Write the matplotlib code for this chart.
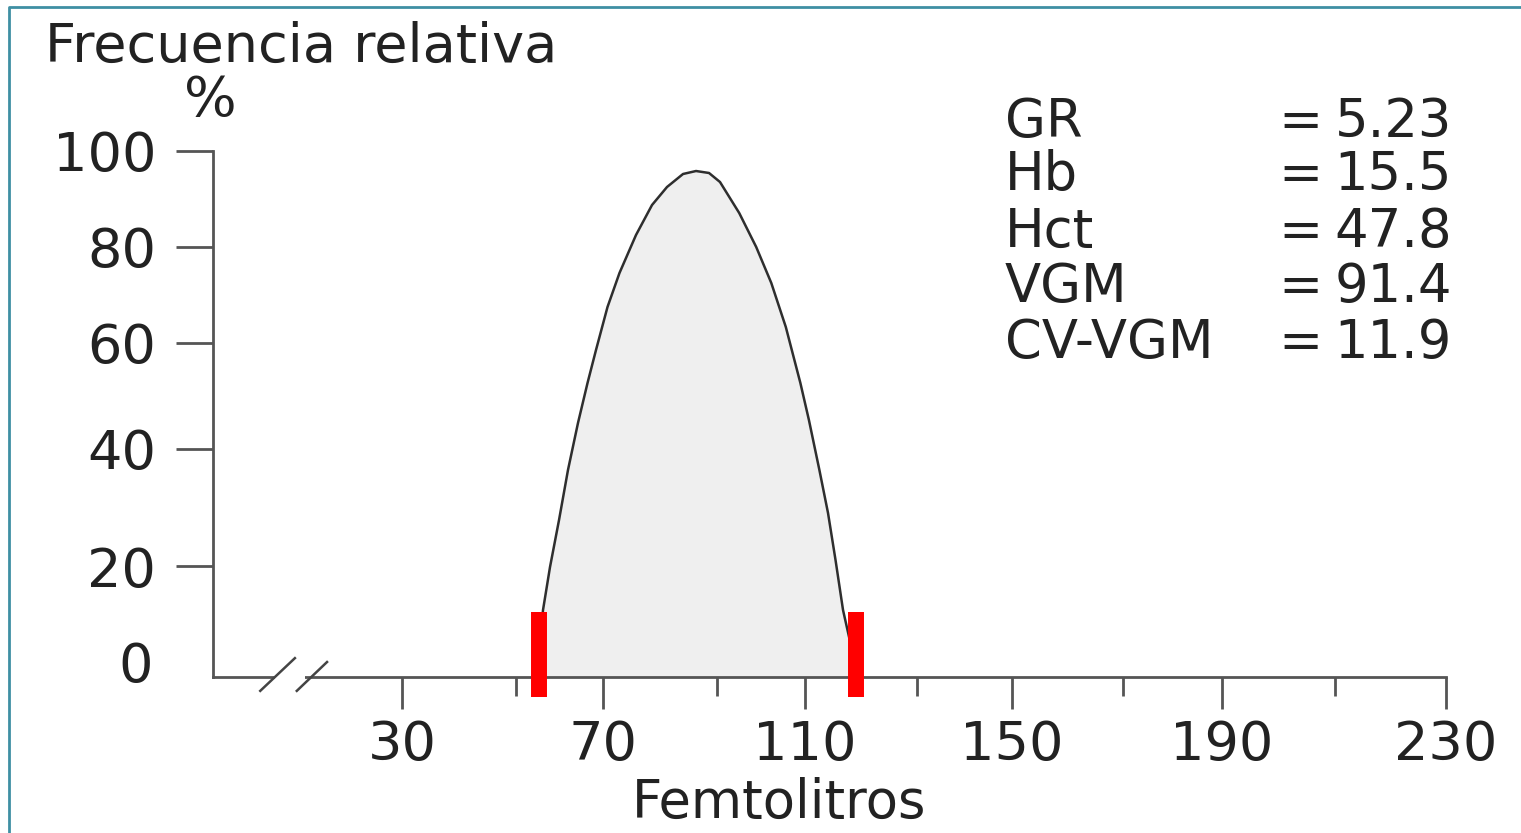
import numpy as np
import matplotlib
matplotlib.use('Agg')
import matplotlib.pyplot as plt
from matplotlib.lines import Line2D
from matplotlib.ticker import NullLocator

# red cell volume distribution curve (fL, relative frequency %)
curve_x = [54.83, 56.21, 57.82, 59.89, 61.95, 64.25, 66.44, 68.39, 70.79, 72.89, 75.79,
           78.60, 81.23, 84.04, 86.32, 88.60, 90.68, 95.05, 98.91, 102.34, 105.64,
           108.95, 110.70, 112.57, 114.11, 115.45, 116.79, 119.46]
curve_y = [0.0, 12.07, 19.82, 27.86, 36.41, 44.91, 52.45, 58.68, 67.50, 74.58, 82.50,
           88.75, 92.50, 95.21, 95.83, 95.42, 93.54, 87.08, 80.00, 72.50, 63.33,
           52.45, 45.47, 36.41, 29.06, 21.03, 12.07, 0.0]

# discriminator marks (red)
thresholds = [55.3, 119.1]
threshold_top = 11.7
threshold_bottom = -3.6

x_major = [30, 70, 110, 150, 190, 230]
x_minor = [50, 90, 130, 170, 210]
y_ticks = [20, 40, 60, 80, 100]

stat_names = ['GR', 'Hb', 'Hct', 'VGM', 'CV-VGM']
stat_values = ['5.23', '15.5', '47.8', '91.4', '11.9']

# the drawn axes are not evenly spaced, so pin each tick to where it sits
x_anchor_val = [0, 30, 50, 70, 90, 110, 130, 150, 170, 190, 210, 230]
x_anchor_pos = [213, 402, 516, 603, 717, 805, 917, 1012, 1123, 1222, 1335, 1446]
y_anchor_val = [-20, 0, 20, 40, 60, 80, 100]
y_anchor_pos = [788, 677, 566, 449, 343, 247, 151]

W, H = 1521, 833
txt = '#222222'
axc = '#555555'

fig = plt.figure(figsize=(W / 100, H / 100), dpi=100)
ax = fig.add_axes([213 / W, (H - 677) / H, (1446 - 213) / W, (677 - 151) / H])

ypos_neg = -np.array(y_anchor_pos, dtype=float)


def fx(v):
    return np.interp(v, x_anchor_val, x_anchor_pos)


def fx_inv(u):
    return np.interp(u, x_anchor_pos, x_anchor_val)


def fy(v):
    return np.interp(v, y_anchor_val, ypos_neg)


def fy_inv(u):
    return np.interp(u, ypos_neg, y_anchor_val)


ax.set_xscale('function', functions=(fx, fx_inv))
ax.set_yscale('function', functions=(fy, fy_inv))
ax.set_xlim(0, 230)
ax.set_ylim(0, 100)

# histogram
ax.fill_between(curve_x, curve_y, 0, color='#efefef', lw=0, zorder=1)
ax.plot(curve_x, curve_y, color='#2e2e2e', lw=1.8, zorder=3)

vl = ax.vlines(thresholds, threshold_bottom, threshold_top, colors='#ff0000',
               linewidth=11.5, zorder=6, clip_on=False)
vl.set_capstyle('butt')

# spines
for s in ['top', 'right']:
    ax.spines[s].set_visible(False)
for s in ['left', 'bottom']:
    ax.spines[s].set_color(axc)
    ax.spines[s].set_linewidth(2)

# axis break "//"
ax.plot([9.8, 14.6], [0, 0], color='white', lw=4, zorder=4, clip_on=False,
        solid_capstyle='butt')
ax.plot([7.5, 13.0], [-2.5, 3.4], color='#444444', lw=1.8, zorder=5, clip_on=False)
ax.plot([13.3, 18.1], [-2.5, 2.7], color='#444444', lw=1.8, zorder=5, clip_on=False)

# ticks
ax.set_xticks(x_major, labels=[str(v) for v in x_major])
ax.set_xticks(x_minor, minor=True)
ax.set_yticks(y_ticks, labels=[str(v) for v in y_ticks])
ax.yaxis.set_minor_locator(NullLocator())
ax.tick_params(axis='x', which='major', length=23, width=2, color=axc, pad=7,
               labelsize=39, labelcolor=txt)
ax.tick_params(axis='x', which='minor', length=14, width=2, color=axc)
ax.tick_params(axis='y', which='major', length=27, width=2, color=axc, pad=14,
               labelsize=39, labelcolor=txt)
# the zero has no tick mark and sits a bit above the axis
ax.annotate('0', xy=(0, 0), xycoords=('axes fraction', 'data'),
            xytext=(-43, 7), textcoords='offset points', ha='right', va='center',
            fontsize=39, color=txt, annotation_clip=False)

# labels
fig.text(45 / W, 1 - 62 / H, 'Frecuencia relativa', fontsize=39, color=txt,
         ha='left', va='baseline')
fig.text(210 / W, 1 - 116 / H, '%', fontsize=40, color=txt, ha='center',
         va='baseline')
fig.text(779 / W, 1 - 818 / H, 'Femtolitros', fontsize=38, color=txt,
         ha='center', va='baseline')

# lab values
baselines = [137, 190, 247, 302, 358]
for name, val, b in zip(stat_names, stat_values, baselines):
    fig.text(1005 / W, 1 - b / H, name, fontsize=38, color=txt, ha='left',
             va='baseline')
    fig.text(1278 / W, 1 - b / H, '=', fontsize=38, color=txt, ha='left',
             va='baseline')
    fig.text(1452 / W, 1 - b / H, val, fontsize=38, color=txt, ha='right',
             va='baseline')

# frame line on top and left
fig.add_artist(Line2D([9 / W, 9 / W, 1], [0, 1 - 7 / H, 1 - 7 / H],
                      color='#3f8fa3', lw=2, transform=fig.transFigure))

fig.savefig('out.png', dpi=100)
